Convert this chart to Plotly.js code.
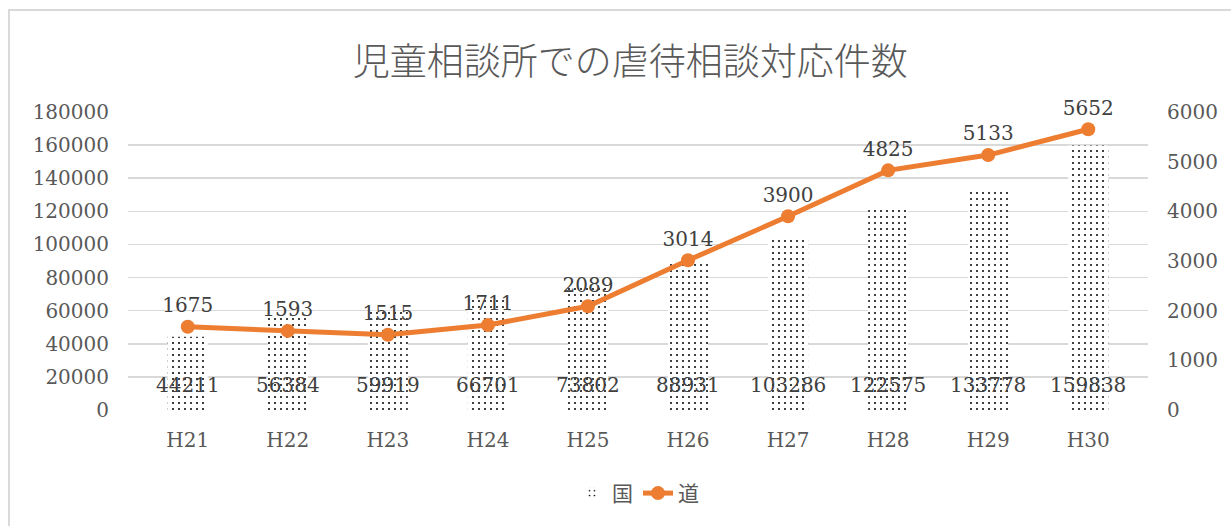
<!DOCTYPE html>
<html><head><meta charset="utf-8">
<script src="https://cdn.plot.ly/plotly-3.0.1.min.js"></script>
<style>body{margin:0;background:#fff}#c{width:1231px;height:526px}</style>
</head><body><div id="c"></div>
<script>
const categories = ['H21','H22','H23','H24','H25','H26','H27','H28','H29','H30'];
const kuni = [44211,56384,59919,66701,73802,88931,103286,122575,133778,159838];
const dou = [1675,1593,1515,1711,2089,3014,3900,4825,5133,5652];
const leftTicks = [0,20000,40000,60000,80000,100000,120000,140000,160000,180000];
const rightTicks = [0,1000,2000,3000,4000,5000,6000];

const serif = 'DejaVu Serif, Liberation Serif, serif';
const jp = 'Noto Sans CJK JP, sans-serif';
const txt = '#595959';
const traces = [
  {type:'bar', name:'国', x:categories, y:kuni,
   marker:{color:'#ffffff', line:{width:0}, pattern:{shape:'.', fgcolor:'#000000', bgcolor:'#ffffff', size:6, solidity:0.09}},
   hoverinfo:'none'},
  {type:'scatter', mode:'lines+markers+text', name:'道', x:categories, y:dou, yaxis:'y2',
   line:{color:'#ED7D31', width:5}, marker:{color:'#ED7D31', size:14},
   text:dou.map(String), textposition:'top center',
   textfont:{family:serif, size:20, color:'#404040'}, cliponaxis:false}
];
const annotations = categories.map((c,i)=>({
  x:c, y:0, xref:'x', yref:'y', text:String(kuni[i]), showarrow:false,
  yanchor:'middle', yshift:25, font:{family:serif, size:20, color:'#404040'}
}));
const layout = {
  width:1231, height:526,
  margin:{l:128, r:83, t:112, b:116},
  paper_bgcolor:'#ffffff', plot_bgcolor:'#ffffff',
  font:{family:serif, color:txt},
  title:{text:'児童相談所での虐待相談対応件数', font:{family:jp, size:37, color:txt, weight:300},
         x:0.512, xanchor:'center', xref:'container', y:0.882, yref:'container', yanchor:'middle'},
  bargap:0.6,
  showlegend:true,
  legend:{orientation:'h', x:0.5, xanchor:'center', y:-0.28, yanchor:'middle', font:{family:jp, size:21, color:txt}},
  xaxis:{tickfont:{family:serif, size:20, color:txt}, showline:false, ticks:'', ticklabelstandoff:16, fixedrange:true},
  yaxis:{range:[0,180000], tickvals:leftTicks, ticktext:leftTicks.map(String), gridcolor:'#d9d9d9', gridwidth:1.5, zeroline:false,
         tickfont:{family:serif, size:20, color:txt}, ticks:'', ticklabelstandoff:18, fixedrange:true},
  yaxis2:{range:[0,6000], tickvals:rightTicks, ticktext:rightTicks.map(String), overlaying:'y', side:'right', showgrid:false, zeroline:false,
          tickfont:{family:serif, size:20, color:txt}, ticks:'', ticklabelstandoff:18, fixedrange:true},
  annotations: annotations,
  shapes:[{type:'rect', xref:'paper', yref:'paper', x0:-0.1167, x1:1.5, y0:-1, y1:1.342, line:{color:'#d9d9d9', width:2}, layer:'below'}]
};
Plotly.newPlot('c', traces, layout, {displayModeBar:false, staticPlot:true});
</script></body></html>
